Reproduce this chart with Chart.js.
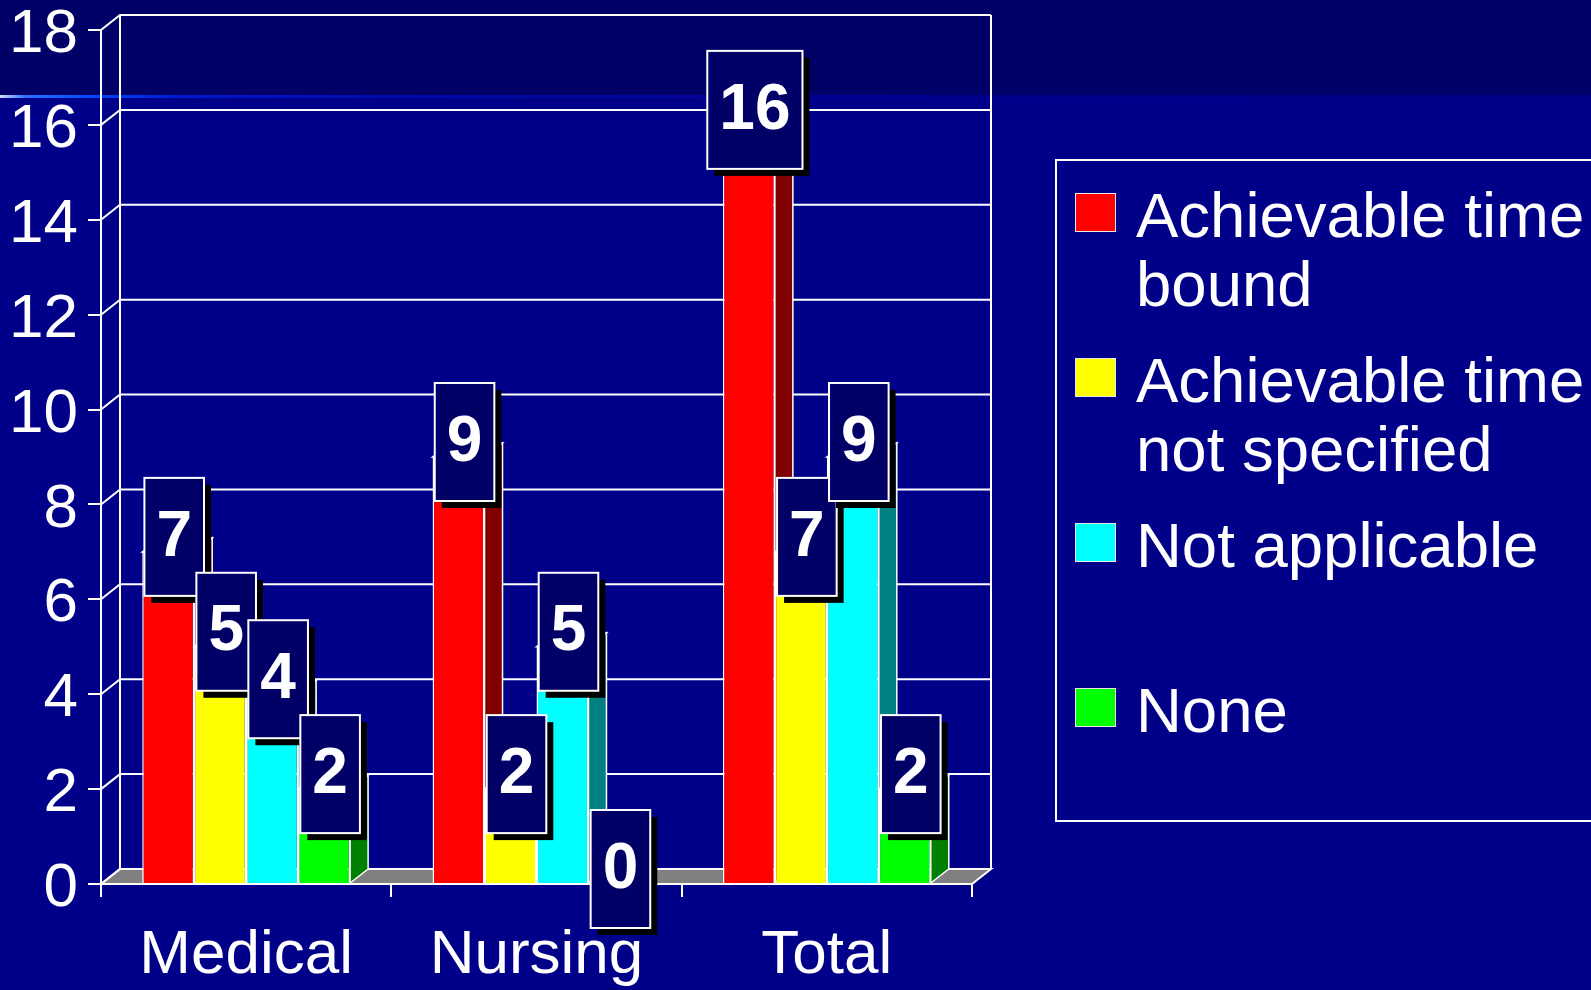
<!DOCTYPE html>
<html>
<head>
<meta charset="utf-8">
<script src="https://cdn.jsdelivr.net/npm/chart.js@4.4.1/dist/chart.umd.min.js"></script>
<style>
  html, body { margin: 0; padding: 0; width: 1591px; height: 990px; overflow: hidden; background: #000088; }
  #band { position: absolute; left: 0; top: 0; width: 1591px; height: 95px; background: #000066; }
  #rule { position: absolute; left: 0; top: 95px; width: 1591px; height: 3px;
          background: linear-gradient(to right, #d0dcff 0px, #3070ff 25px, #0048ff 90px, #0018d0 180px, #000aa8 400px, #000090 900px, #000088 1591px); }
  #chart { position: absolute; left: 0; top: 0; }
  #legend { position: absolute; left: 1055px; top: 159px; width: 600px; height: 659px; border: 2px solid #fff;
            font-family: "Liberation Sans", Arial, sans-serif; color: #fff; font-size: 63.5px; }
  .swatch { position: absolute; left: 18px; width: 39px; height: 37px; border: 1px solid #e8e8e8; }
  .label { position: absolute; left: 79px; width: 465px; line-height: 69px; }
</style>
</head>
<body>
<div id="band"></div>
<div id="rule"></div>
<canvas id="chart" width="1591" height="990"></canvas>
<div id="legend"></div>

<script>
// Data
const categories = ['Medical', 'Nursing', 'Total'];
const seriesNames = ['Achievable time bound', 'Achievable time not specified', 'Not applicable', 'None'];
const timeBound = [7, 9, 16];
const timeNotSpecified = [5, 2, 7];
const notApplicable = [4, 5, 9];
const noneValues = [2, 0, 2];
const yTicks = [0, 2, 4, 6, 8, 10, 12, 14, 16, 18];

// Styling
const frontColors = ['#FF0000', '#FFFF00', '#00FFFF', '#00FF00'];
const sideColors = ['#800000', '#808000', '#008080', '#008000'];
const FONT = '"Liberation Sans", Arial, sans-serif';
const WALL_DX = 19, WALL_DY = 15;   // depth of the back wall / floor
const BAR_DX = 18, BAR_DY = 14;     // depth of each bar

const seriesValues = [timeBound, timeNotSpecified, notApplicable, noneValues];

// Back wall, side wall and floor
const wallPlugin = {
    id: 'wall3d',
    beforeDraw(chart) {
        const { ctx, chartArea: a, scales: { y } } = chart;
        const p0 = y.getPixelForValue(yTicks[0]);
        const pTop = y.getPixelForValue(yTicks[yTicks.length - 1]);
        ctx.save();
        ctx.strokeStyle = '#fff';
        ctx.lineWidth = 2;

        ctx.beginPath();
        ctx.moveTo(a.left, p0);
        ctx.lineTo(a.right, p0);
        ctx.lineTo(a.right + WALL_DX, p0 - WALL_DY);
        ctx.lineTo(a.left + WALL_DX, p0 - WALL_DY);
        ctx.closePath();
        ctx.fillStyle = '#808080';
        ctx.fill();
        ctx.stroke();

        yTicks.forEach(v => {
            const py = y.getPixelForValue(v);
            ctx.beginPath();
            ctx.moveTo(a.left, py);
            ctx.lineTo(a.left + WALL_DX, py - WALL_DY);
            ctx.lineTo(a.right + WALL_DX, py - WALL_DY);
            ctx.stroke();
        });

        ctx.beginPath();
        ctx.moveTo(a.left + WALL_DX, pTop - WALL_DY);
        ctx.lineTo(a.left + WALL_DX, p0 - WALL_DY);
        ctx.moveTo(a.right + WALL_DX, pTop - WALL_DY);
        ctx.lineTo(a.right + WALL_DX, p0 - WALL_DY);
        ctx.stroke();
        ctx.restore();
    }
};

function collectBars(chart) {
    const bars = [];
    chart.data.datasets.forEach((ds, i) => {
        chart.getDatasetMeta(i).data.forEach((el, j) => {
            const p = el.getProps(['x', 'y', 'base', 'width'], true);
            bars.push({ ...p, value: ds.data[j], series: i });
        });
    });
    return bars.sort((a, b) => a.x - b.x);
}

// Top and side faces, drawn before the front faces so the next bar hides them
const barDepthPlugin = {
    id: 'barDepth',
    beforeDatasetsDraw(chart) {
        const ctx = chart.ctx;
        ctx.save();
        ctx.strokeStyle = '#fff';
        ctx.lineWidth = 1.5;
        collectBars(chart).forEach(b => {
            if (!b.value) return;
            const left = b.x - b.width / 2, right = b.x + b.width / 2;
            ctx.beginPath();
            ctx.moveTo(right, b.y);
            ctx.lineTo(right + BAR_DX, b.y - BAR_DY);
            ctx.lineTo(right + BAR_DX, b.base - BAR_DY);
            ctx.lineTo(right, b.base);
            ctx.closePath();
            ctx.fillStyle = sideColors[b.series];
            ctx.fill();
            ctx.stroke();

            ctx.beginPath();
            ctx.moveTo(left, b.y);
            ctx.lineTo(right, b.y);
            ctx.lineTo(right + BAR_DX, b.y - BAR_DY);
            ctx.lineTo(left + BAR_DX, b.y - BAR_DY);
            ctx.closePath();
            ctx.fillStyle = frontColors[b.series];
            ctx.fill();
            ctx.stroke();
        });
        ctx.restore();
    }
};

// Boxed value labels with a drop shadow
const valueBoxPlugin = {
    id: 'valueBoxes',
    afterDatasetsDraw(chart) {
        const ctx = chart.ctx;
        ctx.save();
        ctx.font = 'bold 64px ' + FONT;
        ctx.textAlign = 'center';
        ctx.textBaseline = 'middle';
        collectBars(chart).forEach(b => {
            const text = String(b.value);
            const w = ctx.measureText(text).width + 24;
            const h = 118;
            const cx = b.x + 6, cy = b.y - 15;
            const x0 = cx - w / 2, y0 = cy - h / 2;
            ctx.fillStyle = '#000000';
            ctx.fillRect(x0 + 7, y0 + 7, w, h);
            ctx.fillStyle = '#000066';
            ctx.fillRect(x0, y0, w, h);
            ctx.strokeStyle = '#fff';
            ctx.lineWidth = 2;
            ctx.strokeRect(x0, y0, w, h);
            ctx.fillStyle = '#fff';
            ctx.fillText(text, cx, cy + 1);
        });
        ctx.restore();
    }
};

Chart.defaults.font.family = FONT;

new Chart(document.getElementById('chart'), {
    type: 'bar',
    data: {
        labels: categories,
        datasets: seriesNames.map((name, i) => ({
            label: name,
            data: seriesValues[i],
            backgroundColor: frontColors[i],
            borderColor: '#fff',
            borderWidth: 1.5,
            barPercentage: 1,
            categoryPercentage: 0.716
        }))
    },
    options: {
        responsive: false,
        animation: false,
        devicePixelRatio: 1,
        layout: { padding: { top: 30, right: 619, left: 0, bottom: 0 } },
        plugins: { legend: { display: false }, tooltip: { enabled: false } },
        scales: {
            y: {
                min: 0, max: 18,
                afterFit: s => { s.width = 101; },
                afterBuildTicks: s => { s.ticks = yTicks.map(v => ({ value: v })); },
                ticks: { color: '#fff', font: { size: 62, lineHeight: 0.3 }, padding: 10, labelOffset: 5 },
                grid: { drawOnChartArea: false, color: '#fff', lineWidth: 2, tickLength: 13 },
                border: { color: '#fff', width: 2 }
            },
            x: {
                afterFit: s => { s.height = 106; },
                ticks: { color: '#fff', font: { size: 62 }, padding: 22 },
                grid: { drawOnChartArea: false, color: '#fff', lineWidth: 2, tickLength: 13, offset: true },
                border: { color: '#fff', width: 2 }
            }
        }
    },
    plugins: [wallPlugin, barDepthPlugin, valueBoxPlugin]
});

// Legend box on the right
const legend = document.getElementById('legend');
seriesNames.forEach((name, i) => {
    const sw = document.createElement('div');
    sw.className = 'swatch';
    sw.style.top = (32 + 165 * i) + 'px';
    sw.style.background = frontColors[i];
    legend.appendChild(sw);

    const lbl = document.createElement('div');
    lbl.className = 'label';
    lbl.style.top = (20 + 165 * i) + 'px';
    lbl.textContent = name;
    legend.appendChild(lbl);
});
</script>
</body>
</html>
